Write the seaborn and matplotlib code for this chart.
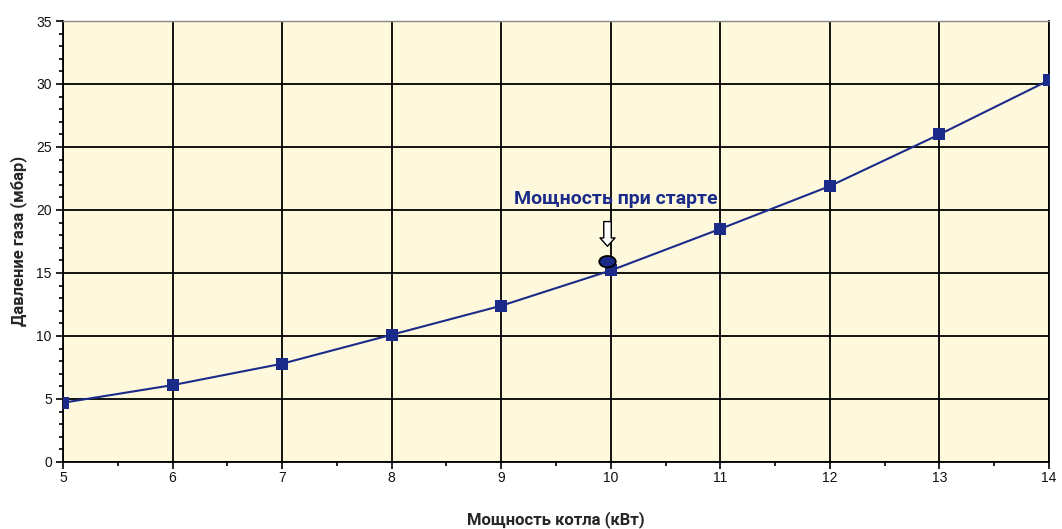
import matplotlib
matplotlib.use("Agg")
import matplotlib.pyplot as plt
from matplotlib.ticker import MultipleLocator
from matplotlib.patches import Ellipse
import seaborn as sns
import pandas as pd

# Boiler output vs gas pressure
power_kw = [5, 6, 7, 8, 9, 10, 11, 12, 13, 14]
pressure_mbar = [4.7, 6.1, 7.8, 10.1, 12.4, 15.2, 18.5, 21.9, 26.0, 30.3]
start_power = 10
start_pressure = 15.9
start_label = "Мощность при старте"

x_label = "Мощность котла (кВт)"
y_label = "Давление газа (мбар)"

line_color = "#1B2B8A"
bg_color = "#FEF9DC"
label_font = ["Roboto", "DejaVu Sans"]

sns.set_theme(style="white")
plt.rcParams["font.family"] = ["Liberation Sans", "DejaVu Sans"]

fig = plt.figure(figsize=(10.62, 5.29), dpi=100)
ax = fig.add_axes([0.0593, 0.1267, 0.9285, 0.8336])
ax.set_facecolor(bg_color)

df = pd.DataFrame({"power": power_kw, "pressure": pressure_mbar})
sns.lineplot(data=df, x="power", y="pressure", ax=ax, color=line_color,
             linewidth=1.5, marker="s", markersize=8, markeredgewidth=0,
             markerfacecolor=line_color, zorder=4)

# start-up point
ax.add_patch(Ellipse((start_power - 0.03, start_pressure), width=0.15, height=0.9,
                     facecolor=line_color, edgecolor="black", linewidth=1.3,
                     zorder=5))
ax.annotate("", xy=(start_power - 0.03, start_pressure + 1.0),
            xytext=(start_power - 0.03, start_pressure + 3.4),
            arrowprops=dict(arrowstyle="simple,head_length=0.5,head_width=0.9,tail_width=0.45",
                            facecolor="white", edgecolor="black", linewidth=1.0),
            zorder=6)
ax.text(start_power + 0.05, 20.9, start_label, ha="center", va="center",
        fontsize=14, fontweight="bold", color=line_color,
        family=label_font, zorder=6)

ax.set_xlim(5, 14)
ax.set_ylim(0, 35)
ax.xaxis.set_major_locator(MultipleLocator(1))
ax.xaxis.set_minor_locator(MultipleLocator(0.5))
ax.yaxis.set_major_locator(MultipleLocator(5))
ax.yaxis.set_minor_locator(MultipleLocator(1))

ax.grid(True, which="major", color="black", linewidth=1.3)
ax.set_axisbelow(True)
for side in ["left", "bottom", "right"]:
    ax.spines[side].set_color("black")
    ax.spines[side].set_linewidth(1.3)
ax.spines["top"].set_color("#888888")
ax.spines["top"].set_linewidth(1.0)

ax.tick_params(axis="both", which="major", direction="out", length=5, width=1.2,
               color="black", labelsize=10, labelcolor="#111111")
ax.tick_params(axis="both", which="minor", direction="out", length=3, width=1.2,
               color="black")
ax.tick_params(axis="x", which="major", pad=1.5)
ax.tick_params(axis="y", which="major", pad=3)
ax.tick_params(left=True, bottom=True, which="both")

ax.set_xlabel("")
ax.set_ylabel("")
fig.text(0.5235, 0.002, x_label, ha="center", va="bottom", fontsize=12,
         fontweight="bold", family=label_font)
fig.text(0.017, 0.545, y_label, ha="center", va="center", rotation=90,
         fontsize=12, fontweight="bold", family=label_font)

fig.savefig("out.png", dpi=100, facecolor="white")
